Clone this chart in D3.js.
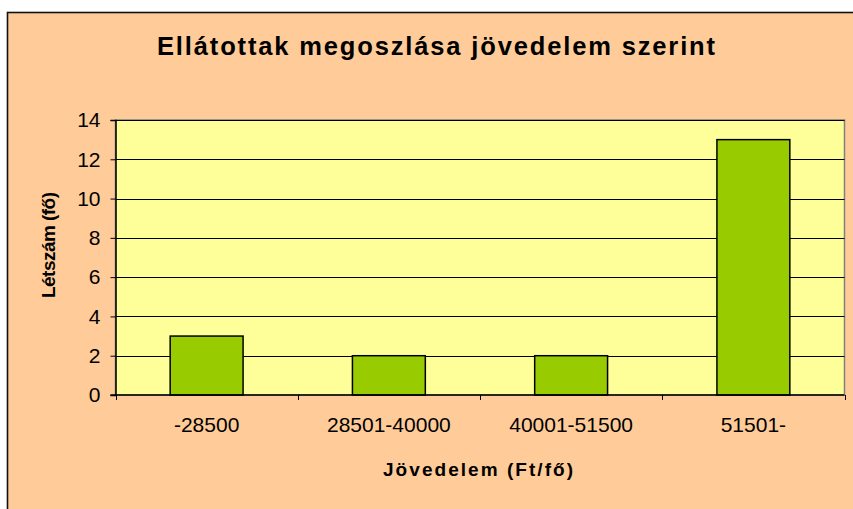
<!DOCTYPE html>
<html>
  <head>
    <meta http-equiv="Content-Type" content="text/html;charset=utf-8">
    <title>Ellátottak megoszlása</title>
    <script type="text/javascript" src="https://d3js.org/d3.v7.min.js"></script>
    <style>
      body { margin: 0; background: #fff; }
      svg text { font-family: 'Liberation Sans', Arial, sans-serif; fill: #000; }
      .tick text { font-size: 21px; }
      .title { font-size: 25.5px; font-weight: bold; }
      .axlabel { font-size: 19px; font-weight: bold; }
      .grid line { stroke: #000; stroke-width: 1px; }
      .bar { fill: #99CC00; stroke: #000; stroke-width: 1.5px; }
    </style>
  </head>
  <body>
    <div id="chart"></div>
    <script>
var categories = ["-28500", "28501-40000", "40001-51500", "51501-"];
var values = [3, 2, 2, 13];
var yTicks = [0, 2, 4, 6, 8, 10, 12, 14];

var width = 853, height = 509;
var plot = {left: 115.5, top: 120, right: 844.5, bottom: 395};

var svg = d3.select("#chart").append("svg")
    .attr("width", width)
    .attr("height", height);

// chart area, border runs off the bottom/right of the picture
svg.append("rect")
    .attr("x", 7.5).attr("y", 12.5)
    .attr("width", 860).attr("height", 520)
    .attr("fill", "#FFCC99")
    .attr("stroke", "#111")
    .attr("stroke-width", 1.6);

var x = d3.scaleBand()
    .domain(categories)
    .range([plot.left, plot.right])
    .paddingInner(0.6)
    .paddingOuter(0.3);

var y = d3.scaleLinear()
    .domain([0, 14])
    .range([plot.bottom, plot.top]);

// plot area
svg.append("rect")
    .attr("x", plot.left).attr("y", plot.top)
    .attr("width", plot.right - plot.left)
    .attr("height", plot.bottom - plot.top)
    .attr("fill", "#FFFF99")
    .attr("stroke", "#808080")
    .attr("stroke-width", 1.5);

svg.append("g")
    .attr("class", "grid")
  .selectAll("line")
    .data(yTicks.slice(1))
  .enter().append("line")
    .attr("x1", plot.left).attr("x2", plot.right)
    .attr("y1", function(d) { return Math.round(y(d)) + 0.5; })
    .attr("y2", function(d) { return Math.round(y(d)) + 0.5; })
    .attr("stroke", function(d) { return d == 14 ? "#808080" : "#000"; });

svg.selectAll(".bar")
    .data(values)
  .enter().append("rect")
    .attr("class", "bar")
    .attr("x", function(d, i) { return x(categories[i]); })
    .attr("width", x.bandwidth())
    .attr("y", function(d) { return y(d); })
    .attr("height", function(d) { return y(0) - y(d); });

// y axis
var yAxis = svg.append("g")
    .attr("transform", "translate(" + plot.left + ",0)")
    .call(d3.axisLeft(y).tickValues(yTicks).tickSize(5).tickPadding(10));
yAxis.select(".domain").attr("stroke", "#000").attr("stroke-width", 1.5);
yAxis.selectAll(".tick line").attr("stroke", "#000");
yAxis.selectAll(".tick text").attr("font-size", 21);

// x axis, ticks between the categories
var xEdges = d3.scaleLinear().domain([0, categories.length]).range([plot.left, plot.right]);
var xAxis = svg.append("g")
    .attr("transform", "translate(0," + plot.bottom + ")");
xAxis.append("line")
    .attr("x1", plot.left - 5).attr("x2", plot.right)
    .attr("stroke", "#000").attr("stroke-width", 1.5);
xAxis.selectAll(".xtick")
    .data(d3.range(categories.length + 1))
  .enter().append("line")
    .attr("x1", function(d) { return Math.round(xEdges(d)) + 0.5; })
    .attr("x2", function(d) { return Math.round(xEdges(d)) + 0.5; })
    .attr("y1", 0).attr("y2", 5)
    .attr("stroke", "#000");
xAxis.selectAll(".xlab")
    .data(categories)
  .enter().append("text")
    .attr("x", function(d) { return x(d) + x.bandwidth() / 2; })
    .attr("y", 37)
    .attr("text-anchor", "middle")
    .attr("font-size", 21)
    .text(function(d) { return d; });

svg.append("text")
    .attr("class", "title")
    .attr("x", 436).attr("y", 55)
    .attr("text-anchor", "middle")
    .attr("textLength", 558)
    .attr("lengthAdjust", "spacing")
    .text("Ellátottak megoszlása jövedelem szerint");

svg.append("text")
    .attr("class", "axlabel")
    .attr("x", 478).attr("y", 476)
    .attr("text-anchor", "middle")
    .attr("textLength", 190)
    .attr("lengthAdjust", "spacing")
    .text("Jövedelem (Ft/fő)");

svg.append("text")
    .attr("class", "axlabel")
    .attr("transform", "translate(55,245) rotate(-90)")
    .attr("text-anchor", "middle")
    .attr("textLength", 106)
    .attr("lengthAdjust", "spacing")
    .text("Létszám (fő)");
    </script>
  </body>
</html>
